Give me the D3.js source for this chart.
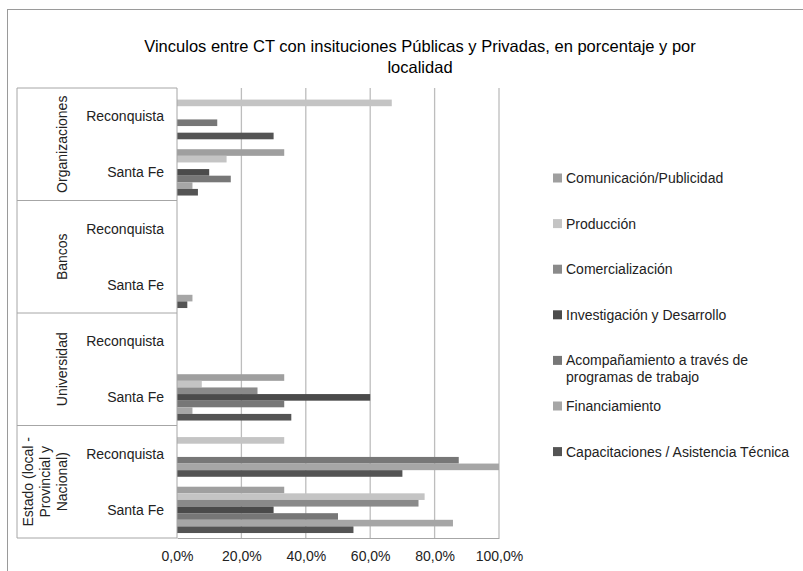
<!DOCTYPE html>
<html>
<head>
<meta charset="utf-8">
<script src="https://cdn.jsdelivr.net/npm/d3@7"></script>
<style>
  body { margin: 0; background: #fff; }
  svg { font-family: "Liberation Sans", Arial, sans-serif; }
</style>
</head>
<body>
<svg width="803" height="571"></svg>
<script>
// data: categories from top to bottom
var groups = ["Organizaciones", "Bancos", "Universidad", "Estado (local - Provincial y Nacional)"];
var groupLines = [["Organizaciones"], ["Bancos"], ["Universidad"], ["Estado (local -", "Provincial y", "Nacional)"]];
var localities = ["Reconquista", "Santa Fe"];

var seriesNames = [
  "Comunicación/Publicidad",
  "Producción",
  "Comercialización",
  "Investigación y Desarrollo",
  "Acompañamiento a través de programas de trabajo",
  "Financiamiento",
  "Capacitaciones / Asistencia Técnica"
];
var seriesColors = ["#9f9f9f", "#c4c4c4", "#8a8a8a", "#4b4b4b", "#777777", "#a6a6a6", "#545454"];

// values per series, categories: Org-Rec, Org-SF, Ban-Rec, Ban-SF, Uni-Rec, Uni-SF, Est-Rec, Est-SF
var comunicacion     = [0, 33.3, 0, 0, 0, 33.3, 0, 33.3];
var produccion       = [66.7, 15.4, 0, 0, 0, 7.7, 33.3, 76.9];
var comercializacion = [0, 0, 0, 0, 0, 25.0, 0, 75.0];
var investigacion    = [0, 10.0, 0, 0, 0, 60.0, 0, 30.0];
var acompanamiento   = [12.5, 16.7, 0, 0, 0, 33.3, 87.5, 50.0];
var financiamiento   = [0, 4.8, 0, 4.8, 0, 4.8, 100, 85.7];
var capacitaciones   = [30.0, 6.5, 0, 3.2, 0, 35.5, 70.0, 54.8];
var seriesValues = [comunicacion, produccion, comercializacion, investigacion, acompanamiento, financiamiento, capacitaciones];

var xTicks = [0, 20, 40, 60, 80, 100];

var svg = d3.select("svg"),
    margin = {top: 88, right: 304, bottom: 33, left: 177},
    width = +svg.attr("width") - margin.left - margin.right,
    height = +svg.attr("height") - margin.top - margin.bottom;

// chart border
svg.append("rect")
    .attr("x", 7.5).attr("y", 9.5)
    .attr("width", 820).attr("height", 600)
    .attr("fill", "none")
    .attr("stroke", "#9a9a9a");

// title
svg.append("text")
    .attr("x", 420).attr("y", 52)
    .attr("text-anchor", "middle")
    .style("font-size", "16.5px")
    .text("Vinculos entre CT con insituciones Públicas y Privadas, en porcentaje y por");
svg.append("text")
    .attr("x", 420).attr("y", 73)
    .attr("text-anchor", "middle")
    .style("font-size", "16.5px")
    .text("localidad");

var cats = [];
groups.forEach(function(g, gi) {
  localities.forEach(function(l) { cats.push({group: gi, loc: l, key: gi + "-" + l}); });
});

var x = d3.scaleLinear().domain([0, 100]).range([0, width]);
var y = d3.scaleBand().domain(cats.map(d => d.key)).range([0, height]);
var yGroup = d3.scaleBand().domain(groups).range([0, height]);
var ySeries = d3.scaleBand().domain(seriesNames).range([0, y.bandwidth()]).paddingInner(0).paddingOuter(0.75);

var g = svg.append("g").attr("transform", "translate(" + margin.left + "," + margin.top + ")");

// gridlines
g.selectAll(".grid")
  .data(xTicks.slice(1))
  .join("line")
    .attr("class", "grid")
    .attr("x1", d => x(d)).attr("x2", d => x(d))
    .attr("y1", 0).attr("y2", height)
    .attr("stroke", "#bdbdbd")
    .attr("stroke-width", 1.3);

// bars
var catG = g.selectAll(".cat")
  .data(cats)
  .join("g")
    .attr("class", "cat")
    .attr("transform", d => "translate(0," + y(d.key) + ")");

catG.each(function(c, ci) {
  d3.select(this).selectAll("rect")
    .data(seriesNames.map((s, si) => ({name: s, value: seriesValues[si][ci], color: seriesColors[si]})))
    .join("rect")
      .attr("x", 0)
      .attr("y", d => ySeries(d.name))
      .attr("width", d => x(d.value))
      .attr("height", ySeries.bandwidth())
      .attr("fill", d => d.color);
});

// bottom axis
var xAxis = g.append("g")
    .attr("transform", "translate(0," + height + ")")
    .call(d3.axisBottom(x).tickValues(xTicks).tickSize(0).tickPadding(13)
      .tickFormat(d => d3.format(".1f")(d).replace(".", ",") + "%"));
xAxis.select(".domain").attr("stroke", "#a6a6a6");
xAxis.selectAll("text").style("font-size", "14px").attr("fill", "#222");

// left multi-level category axis
var left = 17;
g.append("line")
    .attr("x1", 0).attr("x2", 0).attr("y1", 0).attr("y2", height)
    .attr("stroke", "#a6a6a6");
g.append("line")
    .attr("x1", left - margin.left).attr("x2", left - margin.left).attr("y1", 0).attr("y2", height)
    .attr("stroke", "#a6a6a6");
g.selectAll(".sep")
  .data(groups.map(d => yGroup(d)).concat([height]))
  .join("line")
    .attr("class", "sep")
    .attr("x1", left - margin.left).attr("x2", 0)
    .attr("y1", d => d).attr("y2", d => d)
    .attr("stroke", "#a6a6a6");

g.selectAll(".locLabel")
  .data(cats)
  .join("text")
    .attr("class", "locLabel")
    .attr("x", -13)
    .attr("y", d => y(d.key) + y.bandwidth() / 2)
    .attr("dy", "0.35em")
    .attr("text-anchor", "end")
    .style("font-size", "14px")
    .attr("fill", "#222")
    .text(d => d.loc);

groups.forEach(function(gr, gi) {
  var lines = groupLines[gi];
  var cy = yGroup(gr) + yGroup.bandwidth() / 2;
  lines.forEach(function(line, li) {
    var cx = 62 - (lines.length - 1 - li) * 17;
    g.append("text")
      .attr("transform", "translate(" + (cx - margin.left) + "," + cy + ") rotate(-90)")
      .attr("text-anchor", "middle")
      .attr("dy", "0.35em")
      .style("font-size", "14px")
      .attr("fill", "#222")
      .text(line);
  });
});

// legend
var legend = svg.append("g").attr("transform", "translate(553,178)");
seriesNames.forEach(function(name, i) {
  var item = legend.append("g").attr("transform", "translate(0," + (i * 45.6) + ")");
  item.append("rect")
    .attr("x", 0).attr("y", -4.5)
    .attr("width", 9).attr("height", 9)
    .attr("fill", seriesColors[i]);
  var t = item.append("text")
    .attr("x", 13)
    .style("font-size", "14px")
    .attr("fill", "#222");
  // simple word wrap
  var words = name.split(" "), line = [];
  var tspan = t.append("tspan").attr("x", 13).attr("dy", "0.35em");
  words.forEach(function(w) {
    line.push(w);
    tspan.text(line.join(" "));
    if (tspan.node().getComputedTextLength() > 234 && line.length > 1) {
      line.pop();
      tspan.text(line.join(" "));
      line = [w];
      tspan = t.append("tspan").attr("x", 13).attr("dy", 17).text(w);
    }
  });
});
</script>
</body>
</html>
